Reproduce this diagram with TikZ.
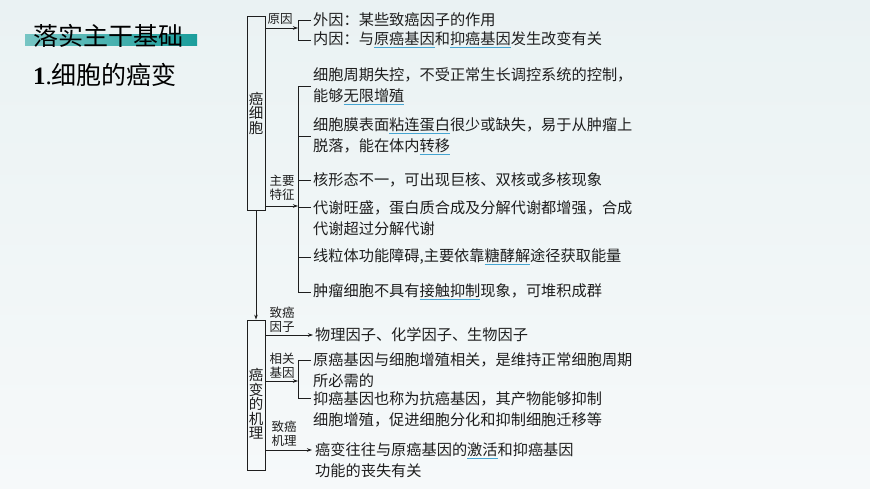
\documentclass[tikz,border=0pt]{standalone}
\usepackage{xcolor}
\usepackage{fontspec}
\setmainfont{Noto Sans CJK SC}
\newfontfamily\numfont{Liberation Serif}
\usepackage{tikz}
\usetikzlibrary{arrows.meta}
\definecolor{bgtop}{RGB}{234,242,243}
\definecolor{bgcol}{RGB}{246,249,250}
\definecolor{barteal}{RGB}{27,158,156}
\definecolor{keyblue}{RGB}{70,165,210}
\definecolor{ink}{RGB}{30,30,30}
\newcommand\kw[1]{\setbox0=\hbox{#1}\rlap{\color{keyblue}\rule[-3.5pt]{\wd0}{0.9pt}}\box0}

\begin{document}
\begin{tikzpicture}[x=1pt,y=-1pt,
  box/.style={draw=ink, line width=0.8pt, minimum width=18pt, inner sep=0},
  vtext/.style={align=center, inner sep=0, text=ink, font=\fontsize{14.5}{14.5}\selectfont},
  tag/.style={align=center, inner sep=0, text=ink, font=\fontsize{12.5}{14}\selectfont},
  item/.style={anchor=west, align=left, inner xsep=2pt, inner ysep=0, text=ink, font=\fontsize{15.2}{21}\selectfont},
  link/.style={draw=ink, line width=0.8pt},
  arr/.style={link, -{Stealth[length=5pt,width=3.5pt]}}]
\useasboundingbox (0,0) rectangle (870,489);
\shade[top color=bgtop, bottom color=bgcol] (0,0) rectangle (870,489);
\shade[left color=barteal!60, right color=barteal] (25,35) rectangle (197,46);
\node[anchor=west, inner sep=0, font=\fontsize{25}{25}\selectfont] (Title) at (33,36) {落实主干基础};
\node[anchor=west, inner sep=0, font=\fontsize{25}{25}\selectfont] (Subtitle) at (33,75) {{\numfont\bfseries 1}{\numfont .}细胞的癌变};

\node[box, minimum height=194pt] (cellbox) at (256,113) {};
\node[vtext] (celltext) at (256,113) {癌\\细\\胞};
\node[box, minimum height=150pt] (mechbox) at (256,395) {};
\node[vtext] (mechtext) at (256,404) {癌\\变\\的\\机\\理};
\draw[arr] (cellbox.south) -- (mechbox.north);

\node[tag] (causetag) at (280,19) {原因};
\node[tag] (feattag) at (282,188) {主要\\特征};
\node[tag] (factortag) at (282,320) {致癌\\因子};
\node[tag] (genetag) at (282,366) {相关\\基因};
\node[tag] (mechtag) at (284,434) {致癌\\机理};

\node[item] (outer) at (311,20) {外因：某些致癌因子的作用};
\node[item] (inner) at (311,40) {内因：与\kw{原癌基因}和\kw{抑癌基因}发生改变有关};
\node[item] (cycle) at (311,86) {细胞周期失控，不受正常生长调控系统的控制，\\能够\kw{无限增殖}};
\node[item] (membrane) at (311,136) {细胞膜表面\kw{粘连蛋白}很少或缺失，易于从肿瘤上\\脱落，能在体内\kw{转移}};
\node[item] (nucleus) at (311,180) {核形态不一，可出现巨核、双核或多核现象};
\node[item] (metab) at (311,218) {代谢旺盛，蛋白质合成及分解代谢都增强，合成\\代谢超过分解代谢};
\node[item] (mito) at (311,257) {线粒体功能障碍,主要依靠\kw{糖酵解}途径获取能量};
\node[item] (contact) at (311,292) {肿瘤细胞不具有\kw{接触抑制}现象，可堆积成群};
\node[item] (physical) at (313,335) {物理因子、化学因子、生物因子};
\node[item] (onco) at (311,370) {原癌基因与细胞增殖相关，是维持正常细胞周期\\所必需的};
\node[item] (supp) at (311,409) {抑癌基因也称为抗癌基因，其产物能够抑制\\细胞增殖，促进细胞分化和抑制细胞迁移等};
\node[item] (mechanism) at (313,460.5) {癌变往往与原癌基因的\kw{激活}和抑癌基因\\功能的丧失有关};

\coordinate (causebar) at (298,28);
\coordinate (featbar) at (298,206);
\coordinate (metabtick) at (298,207);
\coordinate (genebar) at (298,381);
\coordinate (oncotick) at (298,360);
\coordinate (supptick) at (298,398);
\coordinate (mechend) at (312,450);

\draw[arr] (cellbox.east |- causebar) -- (causebar);
\draw[link] (outer.west) -| (causebar |- inner.west) -- (inner.west);

\draw[arr] (cellbox.east |- featbar) -- (featbar);
\draw[link] (cycle.west) -| (featbar |- contact.west) -- (contact.west);
\foreach \n in {membrane,nucleus,mito}
  \draw[link] (featbar |- \n.west) -- (\n.west);
\draw[link] (metabtick) -- (metabtick -| metab.west);

\draw[arr] (mechbox.east |- physical.west) -- (physical.west);
\draw[arr] (mechbox.east |- genebar) -- (genebar);
\draw[link] (oncotick -| onco.west) -- (oncotick) -- (supptick) -- (supptick -| supp.west);
\draw[arr] (mechbox.east |- mechend) -- (mechend);
\end{tikzpicture}
\end{document}
